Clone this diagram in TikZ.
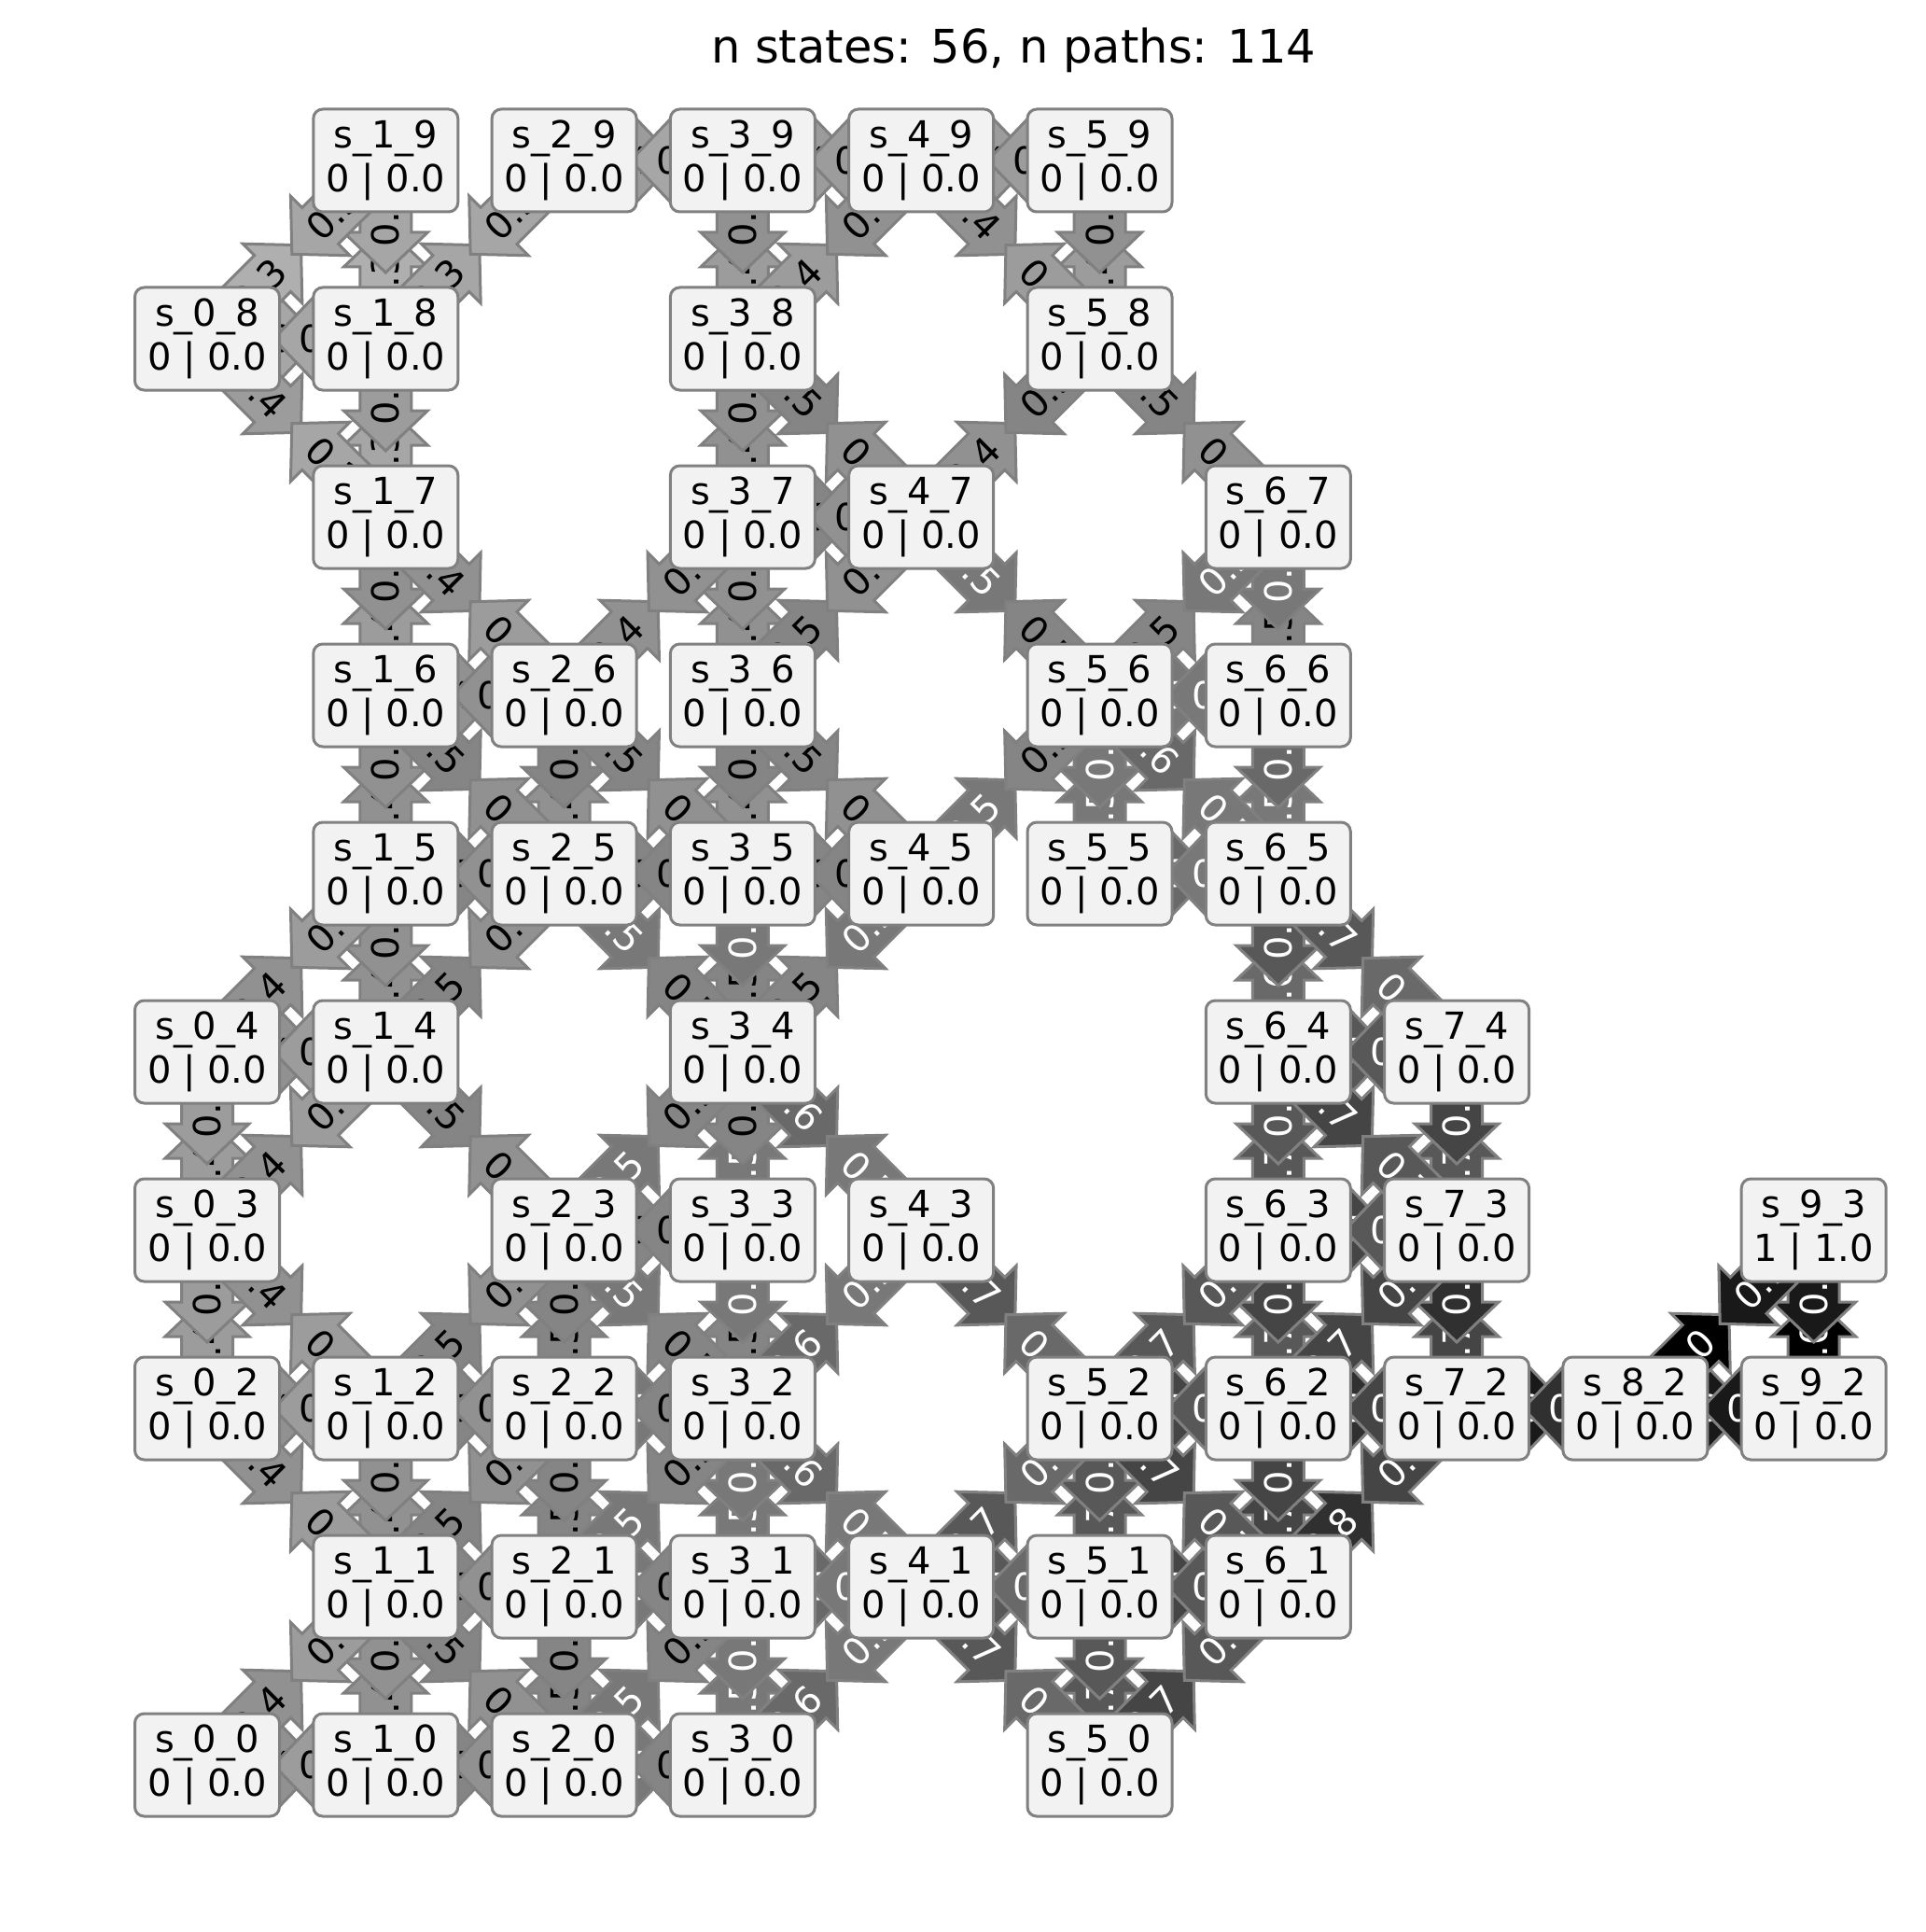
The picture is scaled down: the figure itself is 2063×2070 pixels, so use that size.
\documentclass[tikz,border=0pt]{standalone}
\usepackage{fontspec}
\setmainfont{DejaVu Sans}
\usetikzlibrary{calc,backgrounds}
\definecolor{edgegray}{RGB}{128,128,128}
\definecolor{boxfill}{RGB}{242,242,242}
\newcommand\nfont{\fontsize{20}{23.5}\selectfont}
\newcommand\tfont{\fontsize{24.75}{30}\selectfont}
\newcommand\setd[2]{\expandafter\def\csname dv#1\endcsname{#2}}
\newcommand\dval[1]{\csname dv#1\endcsname}
\newcommand\labof[1]{\ifcase\numexpr#1\relax 1.0\or 0.9\or 0.8\or 0.7\or 0.7\or 0.6\or 0.5\or 0.5\or 0.4\or 0.4\or 0.3\or 0.3\fi}
\newcommand\fillof[1]{\ifcase\numexpr#1\relax 100\or 90\or 81\or 72.9\or 65.6\or 59\or 53.1\or 47.8\or 43\or 38.7\or 34.9\or 31.4\fi}
\def\hw{13.75pt}\def\hh{22.5pt}
\def\getS#1#2{\def\sI{#1}\def\sJ{#2}}
\def\getT#1#2{\def\tI{#1}\def\tJ{#2}}
\newcommand\Edge[3]{%
 \getS#1\getT#2%
 \edef\di{\the\numexpr\tI-\sI\relax}\edef\dj{\the\numexpr\tJ-\sJ\relax}%
 \ifnum\di=0 \def\rot{90}\else\ifnum\dj=0 \def\rot{0}\else
   \ifnum\numexpr\di*\dj\relax>0 \def\rot{45}\else\def\rot{-45}\fi\fi\fi
 \edef\dT{\dval{#2}}%
 \edef\fpct{\fillof{\dT}}\edef\lbl{\labof{\dT}}%
 \ifnum\dT<7 \def\txc{white}\else\def\txc{black}\fi
 \if#3d\def\tipL{71pt}\def\baseL{49.5pt}\def\lposL{39.5pt}\else\def\tipL{60pt}\def\baseL{38.5pt}\def\lposL{30.5pt}\fi
 \filldraw[arrowshape,fill=black!\fpct]
  ($(s#1.center)!\hw!90:(s#2.center)$)
  -- ($(s#1.center)!\baseL!(s#2.center)!\hw!90:(s#2.center)$)
  -- ($(s#1.center)!\baseL!(s#2.center)!\hh!90:(s#2.center)$)
  -- ($(s#1.center)!\tipL!(s#2.center)$)
  -- ($(s#1.center)!\baseL!(s#2.center)!\hh!-90:(s#2.center)$)
  -- ($(s#1.center)!\baseL!(s#2.center)!\hw!-90:(s#2.center)$)
  -- ($(s#1.center)!\hw!-90:(s#2.center)$) -- cycle;
 \node[elabel,text=\txc,rotate=\rot] (l#1#2) at ($(s#1.center)!\lposL!(s#2.center)$) {\lbl};
}
\newcommand\st[2]{\node[stbox] (s#1#2) at ({222+191.3*#1},{1891-191*#2}) {s\_#1\_#2\\0 | 0.0};}
\setd{00}{9}\setd{02}{9}\setd{03}{9}\setd{04}{9}\setd{08}{10}
\setd{10}{8}\setd{11}{8}\setd{12}{8}\setd{14}{8}\setd{15}{8}\setd{16}{8}\setd{17}{9}\setd{18}{10}\setd{19}{11}
\setd{20}{7}\setd{21}{7}\setd{22}{7}\setd{23}{7}\setd{25}{7}\setd{26}{8}\setd{29}{10}
\setd{30}{6}\setd{31}{6}\setd{32}{6}\setd{33}{7}\setd{34}{6}\setd{35}{7}\setd{36}{8}\setd{37}{8}\setd{38}{8}\setd{39}{9}
\setd{41}{5}\setd{43}{5}\setd{45}{7}\setd{47}{7}\setd{49}{9}
\setd{50}{4}\setd{51}{4}\setd{52}{4}\setd{55}{6}\setd{56}{6}\setd{58}{8}\setd{59}{9}
\setd{61}{3}\setd{62}{3}\setd{63}{4}\setd{64}{4}\setd{65}{5}\setd{66}{6}\setd{67}{7}
\setd{72}{2}\setd{73}{3}\setd{74}{4}
\setd{82}{1}\setd{92}{1}\setd{93}{0}
\begin{document}
\begin{tikzpicture}[x=0.5pt,y=-0.5pt,
  stbox/.style={draw=edgegray,line width=1.5pt,fill=boxfill,rounded corners=5pt,
    minimum width=77.5pt,minimum height=55pt,inner sep=0pt,align=center,font=\nfont},
  arrowshape/.style={draw=edgegray,line width=1.5pt,line join=miter},
  elabel/.style={inner sep=0pt,anchor=center,font=\nfont},
  titlestyle/.style={font=\tfont,anchor=base,inner sep=0pt}]
\useasboundingbox (0,0) rectangle (2063,2070);
\node[titlestyle] (title) at (1086,68) {n states: 56, n paths: 114};
% states
\st19\st29\st39\st49\st59
\st08\st18\st38\st58
\st17\st37\st47\st67
\st16\st26\st36\st56\st66
\st15\st25\st35\st45\st55\st65
\st04\st14\st34\st64\st74
\st03\st23\st33\st43\st63\st73
\node[stbox] (s93) at ({222+191.3*9},{1891-191*3}) {s\_9\_3\\1 | 1.0};
\st02\st12\st22\st32\st52\st62\st72\st82\st92
\st11\st21\st31\st41\st51\st61
\st00\st10\st20\st30\st50
\begin{pgfonlayer}{background}
\Edge{00}{10}{s}\Edge{00}{11}{d}
\Edge{02}{12}{s}\Edge{02}{03}{s}\Edge{02}{11}{d}
\Edge{03}{04}{s}\Edge{03}{02}{s}\Edge{03}{14}{d}\Edge{03}{12}{d}
\Edge{04}{14}{s}\Edge{04}{03}{s}\Edge{04}{15}{d}
\Edge{08}{18}{s}\Edge{08}{19}{d}\Edge{08}{17}{d}
\Edge{10}{00}{s}\Edge{10}{20}{s}\Edge{10}{11}{s}
\Edge{11}{21}{s}\Edge{11}{12}{s}\Edge{11}{10}{s}\Edge{11}{22}{d}\Edge{11}{00}{d}\Edge{11}{02}{d}\Edge{11}{20}{d}
\Edge{12}{02}{s}\Edge{12}{22}{s}\Edge{12}{11}{s}\Edge{12}{23}{d}\Edge{12}{03}{d}
\Edge{14}{04}{s}\Edge{14}{15}{s}\Edge{14}{25}{d}\Edge{14}{03}{d}\Edge{14}{23}{d}
\Edge{15}{25}{s}\Edge{15}{16}{s}\Edge{15}{14}{s}\Edge{15}{04}{d}
\Edge{16}{26}{s}\Edge{16}{17}{s}\Edge{16}{15}{s}\Edge{16}{25}{d}
\Edge{17}{18}{s}\Edge{17}{16}{s}\Edge{17}{08}{d}\Edge{17}{26}{d}
\Edge{18}{08}{s}\Edge{18}{19}{s}\Edge{18}{17}{s}\Edge{18}{29}{d}
\Edge{19}{18}{s}\Edge{19}{08}{d}
\Edge{20}{10}{s}\Edge{20}{30}{s}\Edge{20}{21}{s}\Edge{20}{31}{d}\Edge{20}{11}{d}
\Edge{21}{11}{s}\Edge{21}{31}{s}\Edge{21}{22}{s}\Edge{21}{20}{s}\Edge{21}{32}{d}
\Edge{22}{12}{s}\Edge{22}{32}{s}\Edge{22}{23}{s}\Edge{22}{21}{s}\Edge{22}{11}{d}
\Edge{23}{33}{s}\Edge{23}{22}{s}\Edge{23}{12}{d}\Edge{23}{34}{d}\Edge{23}{14}{d}\Edge{23}{32}{d}
\Edge{25}{15}{s}\Edge{25}{35}{s}\Edge{25}{26}{s}\Edge{25}{14}{d}\Edge{25}{16}{d}\Edge{25}{34}{d}
\Edge{26}{16}{s}\Edge{26}{25}{s}\Edge{26}{37}{d}\Edge{26}{17}{d}\Edge{26}{35}{d}
\Edge{29}{39}{s}\Edge{29}{18}{d}
\Edge{30}{20}{s}\Edge{30}{31}{s}\Edge{30}{41}{d}
\Edge{31}{21}{s}\Edge{31}{41}{s}\Edge{31}{32}{s}\Edge{31}{30}{s}\Edge{31}{20}{d}
\Edge{32}{22}{s}\Edge{32}{33}{s}\Edge{32}{31}{s}\Edge{32}{43}{d}\Edge{32}{21}{d}\Edge{32}{23}{d}\Edge{32}{41}{d}
\Edge{33}{23}{s}\Edge{33}{34}{s}\Edge{33}{32}{s}
\Edge{34}{35}{s}\Edge{34}{33}{s}\Edge{34}{45}{d}\Edge{34}{23}{d}\Edge{34}{25}{d}\Edge{34}{43}{d}
\Edge{35}{25}{s}\Edge{35}{45}{s}\Edge{35}{36}{s}\Edge{35}{34}{s}\Edge{35}{26}{d}
\Edge{36}{37}{s}\Edge{36}{35}{s}\Edge{36}{47}{d}\Edge{36}{45}{d}
\Edge{37}{47}{s}\Edge{37}{38}{s}\Edge{37}{36}{s}\Edge{37}{26}{d}
\Edge{38}{39}{s}\Edge{38}{37}{s}\Edge{38}{49}{d}\Edge{38}{47}{d}
\Edge{39}{29}{s}\Edge{39}{49}{s}\Edge{39}{38}{s}
\Edge{41}{31}{s}\Edge{41}{51}{s}\Edge{41}{52}{d}\Edge{41}{30}{d}\Edge{41}{32}{d}\Edge{41}{50}{d}
\Edge{43}{32}{d}\Edge{43}{34}{d}\Edge{43}{52}{d}
\Edge{45}{35}{s}\Edge{45}{56}{d}\Edge{45}{34}{d}\Edge{45}{36}{d}
\Edge{47}{37}{s}\Edge{47}{58}{d}\Edge{47}{36}{d}\Edge{47}{38}{d}\Edge{47}{56}{d}
\Edge{49}{39}{s}\Edge{49}{59}{s}\Edge{49}{38}{d}\Edge{49}{58}{d}
\Edge{50}{51}{s}\Edge{50}{61}{d}\Edge{50}{41}{d}
\Edge{51}{41}{s}\Edge{51}{61}{s}\Edge{51}{52}{s}\Edge{51}{50}{s}
\Edge{52}{62}{s}\Edge{52}{51}{s}\Edge{52}{41}{d}\Edge{52}{63}{d}\Edge{52}{43}{d}\Edge{52}{61}{d}
\Edge{55}{65}{s}\Edge{55}{56}{s}
\Edge{56}{66}{s}\Edge{56}{55}{s}\Edge{56}{45}{d}\Edge{56}{67}{d}\Edge{56}{47}{d}\Edge{56}{65}{d}
\Edge{58}{59}{s}\Edge{58}{47}{d}\Edge{58}{49}{d}\Edge{58}{67}{d}
\Edge{59}{49}{s}\Edge{59}{58}{s}
\Edge{61}{51}{s}\Edge{61}{62}{s}\Edge{61}{72}{d}\Edge{61}{50}{d}\Edge{61}{52}{d}
\Edge{62}{52}{s}\Edge{62}{72}{s}\Edge{62}{63}{s}\Edge{62}{61}{s}\Edge{62}{73}{d}
\Edge{63}{73}{s}\Edge{63}{64}{s}\Edge{63}{62}{s}\Edge{63}{52}{d}
\Edge{64}{74}{s}\Edge{64}{65}{s}\Edge{64}{63}{s}\Edge{64}{73}{d}
\Edge{65}{55}{s}\Edge{65}{66}{s}\Edge{65}{64}{s}\Edge{65}{56}{d}\Edge{65}{74}{d}
\Edge{66}{56}{s}\Edge{66}{67}{s}\Edge{66}{65}{s}
\Edge{67}{66}{s}\Edge{67}{56}{d}\Edge{67}{58}{d}
\Edge{72}{62}{s}\Edge{72}{82}{s}\Edge{72}{73}{s}\Edge{72}{61}{d}
\Edge{73}{63}{s}\Edge{73}{74}{s}\Edge{73}{72}{s}\Edge{73}{62}{d}\Edge{73}{64}{d}
\Edge{74}{64}{s}\Edge{74}{73}{s}\Edge{74}{65}{d}
\Edge{82}{72}{s}\Edge{82}{92}{s}\Edge{82}{93}{d}
\Edge{92}{82}{s}\Edge{92}{93}{s}
\Edge{93}{92}{s}\Edge{93}{82}{d}
\end{pgfonlayer}
\end{tikzpicture}
\end{document}
